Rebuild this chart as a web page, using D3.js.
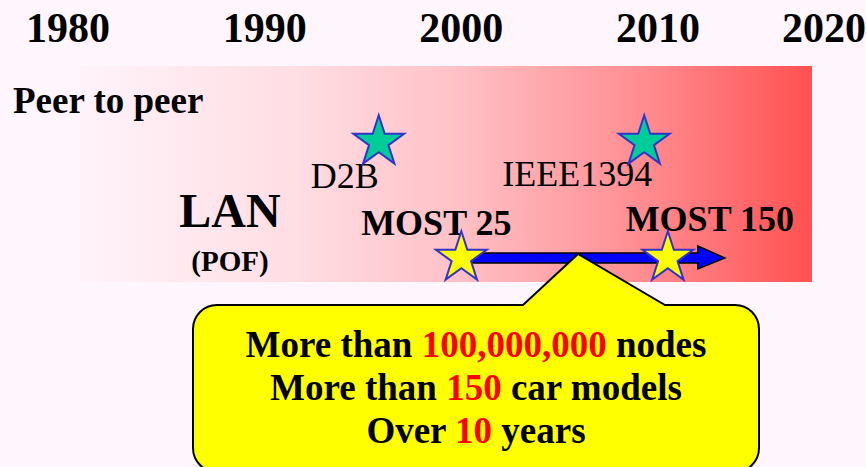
<!DOCTYPE html>
<html>
<head>
<meta charset="utf-8">
<script src="https://cdn.jsdelivr.net/npm/d3@7"></script>
<style>
    html, body { margin: 0; padding: 0; background: #fff5fd; overflow: hidden; }
    svg { display: block; font-family: "Liberation Serif", "Times New Roman", serif; }
</style>
</head>
<body>
<svg width="866" height="467"></svg>
<script>
// decade tick labels along the top
var years = [1980, 1990, 2000, 2010, 2020];

// milestones on the timeline
var eventNames = ["D2B", "IEEE1394", "MOST 25", "MOST 150"];
var eventYears = [1995.8, 2009.3, 2000, 2010.5];
var eventRows = ["p2p", "p2p", "most", "most"];

// MOST arrow runs from MOST 25 to here
var arrowStart = 2000;
var arrowEnd = 2013.4;

// callout lines: [black, red, black]
var calloutLines = [
    ["More than ", "100,000,000", " nodes"],
    ["More than ", "150", " car models"],
    ["Over ", "10", " years"]
];

var svg = d3.select("svg"),
    width = +svg.attr("width"),
    height = +svg.attr("height");

var x = d3.scaleLinear()
    .domain([1980, 2010])
    .range([68, 658]);

var rowY = {p2p: 142, most: 258};

var defs = svg.append("defs");
var grad = defs.append("linearGradient")
    .attr("id", "band")
    .attr("x1", "0%").attr("x2", "100%")
    .attr("y1", "0%").attr("y2", "0%");
[[0, "#fff3fa"], [0.3, "#ffdde3"], [0.52, "#ffc0c5"], [0.78, "#ff8a8e"], [1, "#ff5050"]]
    .forEach(function (s) {
        grad.append("stop").attr("offset", s[0]).attr("stop-color", s[1]);
    });

// red band behind the timeline
svg.append("rect")
    .attr("x", 80)
    .attr("y", 66)
    .attr("width", 812 - 80)
    .attr("height", 282 - 66)
    .attr("fill", "url(#band)");

// year labels, last one pulled in so it fits
svg.append("g")
    .selectAll("text")
    .data(years)
    .enter().append("text")
    .attr("y", 42)
    .attr("text-anchor", "middle")
    .attr("font-weight", "bold")
    .attr("font-size", 42)
    .text(function (d) { return d; })
    .attr("x", function (d) {
        var half = this.getComputedTextLength() / 2;
        return Math.min(x(d), width - half);
    });

svg.append("text")
    .attr("x", 13)
    .attr("y", 113)
    .attr("font-weight", "bold")
    .attr("font-size", 37)
    .text("Peer to peer");

svg.append("text")
    .attr("x", 230)
    .attr("y", 227)
    .attr("text-anchor", "middle")
    .attr("font-weight", "bold")
    .attr("font-size", 48)
    .text("LAN");

svg.append("text")
    .attr("x", 230)
    .attr("y", 271)
    .attr("text-anchor", "middle")
    .attr("font-weight", "bold")
    .attr("font-size", 29)
    .text("(POF)");

// MOST arrow
var ay = rowY.most,
    x0 = x(arrowStart),
    x1 = x(arrowEnd),
    headLen = 27;
var arrow = d3.path();
arrow.moveTo(x0, ay - 5);
arrow.lineTo(x1 - headLen, ay - 5);
arrow.lineTo(x1 - headLen, ay - 12);
arrow.lineTo(x1, ay);
arrow.lineTo(x1 - headLen, ay + 11);
arrow.lineTo(x1 - headLen, ay + 5);
arrow.lineTo(x0, ay + 5);
arrow.closePath();
svg.append("path")
    .attr("d", arrow.toString())
    .attr("fill", "#0000ff")
    .attr("stroke", "#000")
    .attr("stroke-width", 1.5);

var events = eventNames.map(function (n, i) {
    return {name: n, year: eventYears[i], row: eventRows[i]};
});

// text placement next to each star
var labelStyle = {
    "D2B": {dx: 0, dy: 46, anchor: "end", bold: false},
    "IEEE1394": {dx: 8, dy: 44, anchor: "end", bold: false},
    "MOST 25": {dx: -25, dy: -23, anchor: "middle", bold: true},
    "MOST 150": {dx: 42, dy: -27, anchor: "middle", bold: true}
};

svg.append("g")
    .selectAll("text")
    .data(events)
    .enter().append("text")
    .attr("x", function (d) { return x(d.year) + labelStyle[d.name].dx; })
    .attr("y", function (d) { return rowY[d.row] + labelStyle[d.name].dy; })
    .attr("text-anchor", function (d) { return labelStyle[d.name].anchor; })
    .attr("font-weight", function (d) { return labelStyle[d.name].bold ? "bold" : "normal"; })
    .attr("font-size", 36)
    .text(function (d) { return d.name; });

var star = d3.symbol().type(d3.symbolStar).size(800);

svg.append("g")
    .selectAll("path")
    .data(events)
    .enter().append("path")
    .attr("transform", function (d) {
        return "translate(" + x(d.year) + "," + rowY[d.row] + ")";
    })
    .attr("d", star)
    .attr("fill", function (d) { return d.row === "p2p" ? "#00cc99" : "#ffff00"; })
    .attr("stroke", "#3333cc")
    .attr("stroke-width", 2);

// callout bubble pointing at the arrow
var bx0 = 193, bx1 = 759, by0 = 305, by1 = 472, r = 24,
    tipX = 578, tipY = 254;
var bubble = d3.path();
bubble.moveTo(bx0 + r, by0);
bubble.lineTo(523, by0);
bubble.lineTo(tipX, tipY);
bubble.lineTo(665, by0);
bubble.lineTo(bx1 - r, by0);
bubble.arcTo(bx1, by0, bx1, by0 + r, r);
bubble.lineTo(bx1, by1 - r);
bubble.arcTo(bx1, by1, bx1 - r, by1, r);
bubble.lineTo(bx0 + r, by1);
bubble.arcTo(bx0, by1, bx0, by1 - r, r);
bubble.lineTo(bx0, by0 + r);
bubble.arcTo(bx0, by0, bx0 + r, by0, r);
bubble.closePath();
svg.append("path")
    .attr("d", bubble.toString())
    .attr("fill", "#ffff00")
    .attr("stroke", "#000")
    .attr("stroke-width", 2);

var lines = svg.append("g")
    .selectAll("text")
    .data(calloutLines)
    .enter().append("text")
    .attr("x", (bx0 + bx1) / 2)
    .attr("y", function (d, i) { return 357 + i * 43; })
    .attr("text-anchor", "middle")
    .attr("font-weight", "bold")
    .attr("font-size", 37);

lines.selectAll("tspan")
    .data(function (d) { return d; })
    .enter().append("tspan")
    .attr("fill", function (d, i) { return i === 1 ? "#ff0000" : "#000"; })
    .text(function (d) { return d; });
</script>
</body>
</html>
